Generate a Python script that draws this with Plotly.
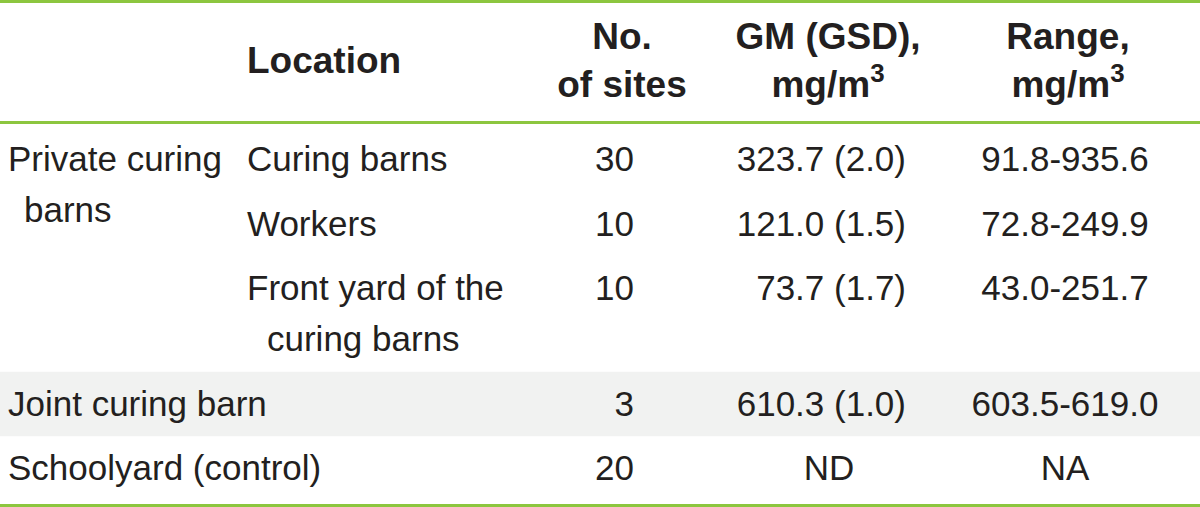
import plotly.graph_objects as go

# ---------------- data ----------------
header_labels = ["Location", "No.\nof sites", "GM (GSD),\nmg/m<sup>3</sup>", "Range,\nmg/m<sup>3</sup>"]
group_labels = ["Private curing\nbarns", "Joint curing barn", "Schoolyard (control)"]
group_spans = [3, 1, 1]
sub_locations = ["Curing barns", "Workers", "Front yard of the\ncuring barns", "", ""]
n_sites = ["30", "10", "10", "3", "20"]
gm_gsd = ["323.7 (2.0)", "121.0 (1.5)", "73.7 (1.7)", "610.3 (1.0)", "ND"]
range_vals = ["91.8-935.6", "72.8-249.9", "43.0-251.7", "603.5-619.0", "NA"]
shaded_rows = [3]

# ---------------- layout constants ----------------
W, H = 1200, 507
FONT = "Liberation Sans, Arial, sans-serif"
TXT = "#231f20"
GREEN = "#8cc63f"
GRAY = "#f1f2f1"
BODY_SIZE = 35
HEAD_SIZE = 37

HEADER_CENTER = 64
HEADER_GAP = 48
FIRST_ROW = 159.5
ROW_STEP = 64.5
LINE_GAP = 51
TEXT_SHIFT = 3

GROUP_X, GROUP_INDENT = 8, 24
SUB_X, SUB_INDENT = 247, 267
N_RIGHT, N_CENTER = 634, 622
GM_RIGHT, GM_CENTER = 906, 829
RANGE_CENTER = 1065
HEADER_X = [("middle right", 247), ("middle center", N_CENTER),
            ("middle center", 828), ("middle center", 1068)]


def lines(s):
    return s.split("\n") if s else []


# row centres
row_centers = []
y = FIRST_ROW
for sub in sub_locations:
    row_centers.append(y)
    y += ROW_STEP + LINE_GAP * max(len(lines(sub)) - 1, 0)

bx, by, bt, bp = [], [], [], []


def add(xs, ys, txt, pos):
    bx.append(xs); by.append(ys + TEXT_SHIFT); bt.append(txt); bp.append(pos)


# group labels
r = 0
for lab, span in zip(group_labels, group_spans):
    for k, ln in enumerate(lines(lab)):
        add(GROUP_X if k == 0 else GROUP_INDENT, row_centers[r] + k * LINE_GAP, ln, "middle right")
    r += span

for i, yc in enumerate(row_centers):
    for k, ln in enumerate(lines(sub_locations[i])):
        add(SUB_X if k == 0 else SUB_INDENT, yc + k * LINE_GAP, ln, "middle right")
    add(N_RIGHT, yc, n_sites[i], "middle left")
    g = gm_gsd[i]
    if g[0].isdigit():
        add(GM_RIGHT, yc, g, "middle left")
    else:
        add(GM_CENTER, yc, g, "middle center")
    add(RANGE_CENTER, yc, range_vals[i], "middle center")

hx, hy, ht, hp = [], [], [], []
for (pos, xpos), lab in zip(HEADER_X, header_labels):
    ls = lines(lab)
    n = len(ls)
    for k, ln in enumerate(ls):
        hx.append(xpos)
        hy.append(HEADER_CENTER + (k - (n - 1) / 2) * HEADER_GAP)
        ht.append(ln)
        hp.append(pos)

fig = go.Figure()
fig.add_trace(go.Scatter(x=bx, y=by, text=bt, textposition=bp, mode="text",
                         textfont=dict(family=FONT, size=BODY_SIZE, color=TXT),
                         hoverinfo="skip", showlegend=False))
fig.add_trace(go.Scatter(x=hx, y=hy, text=ht, textposition=hp, mode="text",
                         textfont=dict(family=FONT, size=HEAD_SIZE, color=TXT, weight="bold"),
                         hoverinfo="skip", showlegend=False))

shapes = []
for r in shaded_rows:
    shapes.append(dict(type="rect", xref="x", yref="y", x0=0, x1=W,
                       y0=row_centers[r] - ROW_STEP / 2, y1=row_centers[r] + ROW_STEP / 2,
                       fillcolor=GRAY, line=dict(width=0), layer="below"))
for yl in [1.5, 122.5, 505.5]:
    shapes.append(dict(type="line", xref="x", yref="y", x0=0, x1=W, y0=yl, y1=yl,
                       line=dict(color=GREEN, width=3), layer="above"))

fig.update_layout(
    width=W, height=H, margin=dict(l=0, r=0, t=0, b=0),
    paper_bgcolor="white", plot_bgcolor="white",
    xaxis=dict(range=[0, W], visible=False, fixedrange=True),
    yaxis=dict(range=[H, 0], visible=False, fixedrange=True),
    shapes=shapes,
)
fig.write_html("out.html", config={"displayModeBar": False},
               post_script="document.body.style.margin='0';document.body.style.overflow='hidden';")
